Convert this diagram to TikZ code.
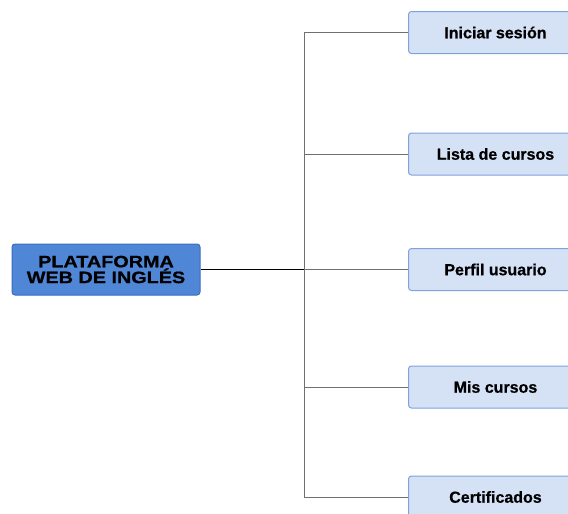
\documentclass[tikz,border=0pt]{standalone}
\usepackage{fontspec}
\setmainfont{Liberation Sans}[BoldFeatures={FakeBold=0.6}]
\newfontfamily\rootfont[FakeStretch=1.2, BoldFeatures={FakeBold=0.8}]{Liberation Sans}
\usetikzlibrary{positioning}
\definecolor{rootfill}{HTML}{4F86D6}
\definecolor{rootdraw}{HTML}{3A6CC0}
\definecolor{leaffill}{HTML}{D5E1F5}
\definecolor{leafdraw}{HTML}{7EA3DC}
\definecolor{branchgray}{HTML}{707070}
\def\Hroot{51pt}
\def\Wroot{188pt}
\def\Hleaf{42pt}
\def\Wleaf{174pt}
\tikzstyle{every node} = [font=\bfseries]
\tikzstyle{root} = [rectangle, minimum width=\Wroot, minimum height=\Hroot, text centered, align=center, fill=rootfill, draw=rootdraw, line width=1pt, rounded corners=3pt, font=\rootfont\bfseries\fontsize{16.5}{14.5}\selectfont]
\tikzstyle{leaf} = [rectangle, minimum width=\Wleaf, minimum height=\Hleaf, text centered, fill=leaffill, draw=leafdraw, line width=1pt, rounded corners=3pt, anchor=west, font=\bfseries\fontsize{16}{17}\selectfont]
\tikzstyle{trunk}  = [line width=1.6pt, black]
\tikzstyle{branch} = [line width=0.9pt, branchgray]

\begin{document}
\begin{tikzpicture}[x=1pt, y=-1pt]
\useasboundingbox (0,0) rectangle (568,514);
% Objects
    % Root
    \node (web)  [root] at (106,269.5) {PLATAFORMA\\WEB DE INGLÉS};
    \coordinate (hub) at (304,269.5);
    % Leaves
    \node (login)  [leaf] at (408,32.5)  {Iniciar sesión};
    \node (list)   [leaf] at (408,154)   {Lista de cursos};
    \node (profile)[leaf] at (408,269.5) {Perfil usuario};
    \node (mine)   [leaf] at (408,387)   {Mis cursos};
    \node (cert)   [leaf] at (408,497)   {Certificados};

% Connectors
    \draw [trunk] (web) -- (hub);
    \foreach \leafname in {login, list, profile, mine, cert}
        \draw [branch] (hub) |- (\leafname.west);
\end{tikzpicture}
\end{document}
